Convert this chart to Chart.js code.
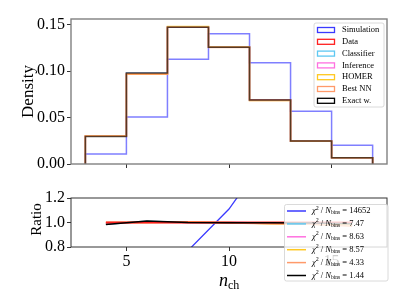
<!DOCTYPE html>
<html>
<head>
<meta charset="utf-8">
<script src="https://cdn.jsdelivr.net/npm/chart.js@4.4.0/dist/chart.umd.min.js"></script>
<style>
  body { margin: 0; background: #fff; }
  #caja { position: relative; width: 407px; height: 305px; }
  #caja canvas { position: absolute; left: 0; top: 0; }
</style>
</head>
<body>
<div id="caja">
  <canvas id="grafico_hist" width="407" height="305"></canvas>
  <canvas id="grafico_ratio" width="407" height="305"></canvas>
</div>
<script>
// bins de n_ch (ancho 2)
var bordes = [3, 5, 7, 9, 11, 13, 15, 17];
var centros = [4, 6, 8, 10, 12, 14, 16];

var h_simulation = [0.0108, 0.0507, 0.1126, 0.140, 0.109, 0.0568, 0.0201];
var h_data       = [0.0302, 0.0968, 0.147, 0.126, 0.069, 0.0248, 0.0068];
var h_classifier = [0.0298, 0.0978, 0.147, 0.126, 0.0687, 0.0246, 0.0067];
var h_inference  = [0.0299, 0.0973, 0.147, 0.126, 0.0687, 0.0246, 0.0067];
var h_homer      = [0.0302, 0.0968, 0.148, 0.126, 0.0683, 0.0244, 0.0066];
var h_bestnn     = [0.0302, 0.0968, 0.147, 0.1254, 0.0683, 0.0244, 0.0066];
var h_exact      = [0.0297, 0.0980, 0.147, 0.1257, 0.0688, 0.0247, 0.0067];

// ratios (panel de abajo)
var r_simulation = [0.36, 0.52, 0.77, 1.11, 1.58, 2.29, 2.95];
var r_data       = [1.0, 1.0, 1.0, 1.0, 1.0, 1.0, 1.0];
var r_classifier = [0.985, 1.01, 1.0, 1.0, 0.995, 0.99, 0.99];
var r_inference  = [0.99, 1.005, 1.0, 1.0, 0.995, 0.99, 0.99];
var r_homer      = [1.0, 1.0, 1.005, 1.0, 0.99, 0.985, 0.98];
var r_bestnn     = [1.0, 1.0, 1.0, 0.995, 0.99, 0.985, 0.97];
var r_exact      = [0.983, 1.012, 1.0, 0.998, 0.997, 0.995, 0.99];

var nombres = ['Simulation', 'Data', 'Classifier', 'Inference', 'HOMER', 'Best NN', 'Exact w.'];
var chi2_valores = ['14652', '7.47', '8.63', '8.57', '4.33', '1.44'];

var ticks_x = [5, 10, 15];
var ticks_density = [0.00, 0.05, 0.10, 0.15];
var ticks_ratio = [0.8, 1.0, 1.2];

var colores = {
    sim: '#3a3aff', data: '#ff2020', clas: '#5ec8f2', inf: '#ff70e0',
    homer: '#ffc820', best: '#ff9a6a', exact: '#000000'
};
var colores_hist = {
    sim: 'rgba(58,58,255,0.65)', data: 'rgba(255,32,32,0.8)', clas: 'rgba(94,200,242,0.7)',
    inf: 'rgba(255,112,224,0.7)', homer: 'rgba(255,200,32,0.8)', best: 'rgba(255,154,106,0.7)',
    exact: 'rgba(0,0,0,0.65)'
};

var fuente = '"Liberation Serif", "Times New Roman", serif';
Chart.defaults.font.family = fuente;
Chart.defaults.color = '#000';

function escalon(valores) {
    var pts = [{x: bordes[0], y: 0}];
    for (var i = 0; i < valores.length; i++) {
        pts.push({x: bordes[i], y: valores[i]});
        pts.push({x: bordes[i + 1], y: valores[i]});
    }
    pts.push({x: bordes[bordes.length - 1], y: 0});
    return pts;
}

function puntos(valores) {
    return centros.map(function (c, i) { return {x: c, y: valores[i]}; });
}

function linea(datos, color, ancho, orden) {
    return {data: datos, borderColor: color, borderWidth: ancho, pointRadius: 0,
            fill: false, tension: 0, order: orden};
}

// texto con sub/superindices: [texto, font, dy]
function texto_rico(ctx, partes, x, y) {
    for (var i = 0; i < partes.length; i++) {
        ctx.font = partes[i][1];
        ctx.fillText(partes[i][0], x, y + (partes[i][2] || 0));
        x += ctx.measureText(partes[i][0]).width;
    }
    return x;
}

function caja_leyenda(ctx, x, y, w, h) {
    ctx.save();
    ctx.fillStyle = 'rgba(255,255,255,0.8)';
    ctx.strokeStyle = '#d0d0d0';
    ctx.lineWidth = 0.8;
    ctx.beginPath();
    ctx.roundRect(x, y, w, h, 2);
    ctx.fill();
    ctx.stroke();
    ctx.restore();
}

var plugin_hist = {
    id: 'extras_hist',
    afterDraw: function (chart) {
        var ctx = chart.ctx, a = chart.chartArea;
        ctx.save();
        // marco
        ctx.strokeStyle = '#808080';
        ctx.lineWidth = 1.4;
        ctx.strokeRect(a.left, a.top, a.right - a.left, a.bottom - a.top);
        // titulo eje y
        ctx.fillStyle = '#000';
        ctx.translate(33, (a.top + a.bottom) / 2);
        ctx.rotate(-Math.PI / 2);
        ctx.textAlign = 'center';
        ctx.textBaseline = 'alphabetic';
        ctx.font = '17px ' + fuente;
        ctx.fillText('Density', 0, 0);
        ctx.restore();

        // leyenda
        caja_leyenda(ctx, 314, 23, 70, 84);
        var cols = [colores.sim, colores.data, colores.clas, colores.inf, colores.homer, colores.best, colores.exact];
        ctx.save();
        ctx.textBaseline = 'middle';
        ctx.font = '8.5px ' + fuente;
        for (var i = 0; i < nombres.length; i++) {
            var yy = 30 + i * 11.8;
            ctx.strokeStyle = cols[i];
            ctx.lineWidth = 1.3;
            ctx.strokeRect(317.5, yy - 2.5, 17, 5);
            ctx.fillStyle = '#000';
            ctx.fillText(nombres[i], 342, yy);
        }
        ctx.restore();
    }
};

var plugin_ratio = {
    id: 'extras_ratio',
    afterDraw: function (chart) {
        var ctx = chart.ctx, a = chart.chartArea;
        ctx.save();
        ctx.strokeStyle = '#333';
        ctx.lineWidth = 1;
        ctx.strokeRect(a.left, a.top, a.right - a.left, a.bottom - a.top);
        ctx.fillStyle = '#000';
        // titulo eje x
        ctx.textBaseline = 'alphabetic';
        texto_rico(ctx, [['n', 'italic 18px ' + fuente, 0], ['ch', '12px ' + fuente, 3]], 219, 286);
        // titulo eje y
        ctx.translate(41, (a.top + a.bottom) / 2 - 3);
        ctx.rotate(-Math.PI / 2);
        ctx.textAlign = 'center';
        ctx.font = '15px ' + fuente;
        ctx.fillText('Ratio', 0, 0);
        ctx.restore();

        // leyenda chi2
        caja_leyenda(ctx, 284.5, 204.5, 103.5, 76.5);
        var cols = [colores.sim, colores.clas, colores.inf, colores.homer, colores.best, colores.exact];
        ctx.save();
        ctx.textBaseline = 'middle';
        for (var i = 0; i < chi2_valores.length; i++) {
            var yy = 211 + i * 12.9;
            ctx.strokeStyle = cols[i];
            ctx.lineWidth = 1.5;
            ctx.beginPath();
            ctx.moveTo(287, yy);
            ctx.lineTo(306, yy);
            ctx.stroke();
            ctx.fillStyle = '#000';
            texto_rico(ctx, [
                ['\u03c7', 'italic 8.5px ' + fuente, 0],
                ['2', '6px ' + fuente, -3],
                [' / ', '8.5px ' + fuente, 0],
                ['N', 'italic 8.5px ' + fuente, 0],
                ['bins', '5.5px ' + fuente, 2],
                [' = ' + chi2_valores[i], '8.5px ' + fuente, 0]
            ], 312, yy);
        }
        ctx.restore();
    }
};

function eje_x(alto, mostrar) {
    return {
        type: 'linear', min: 2.3, max: 17.7,
        afterBuildTicks: function (s) { s.ticks = ticks_x.map(function (v) { return {value: v}; }); },
        afterFit: function (s) { s.height = alto; },
        grid: {drawOnChartArea: false, drawTicks: true, tickLength: 4, tickColor: '#333', tickWidth: 1},
        border: {display: false},
        ticks: {display: mostrar, font: {size: 16}, padding: 1, color: '#000'}
    };
}

function grafico_hist() {
    new Chart(document.getElementById('grafico_hist'), {
        type: 'line',
        data: {
            datasets: [
                linea(escalon(h_simulation), colores_hist.sim, 1.5, 7),
                linea(escalon(h_data), colores_hist.data, 1.5, 6),
                linea(escalon(h_classifier), colores_hist.clas, 1.5, 5),
                linea(escalon(h_inference), colores_hist.inf, 1.5, 4),
                linea(escalon(h_homer), colores_hist.homer, 1.5, 3),
                linea(escalon(h_bestnn), colores_hist.best, 1.5, 2),
                linea(escalon(h_exact), colores_hist.exact, 1.5, 1)
            ]
        },
        options: {
            responsive: false, animation: false, devicePixelRatio: 1,
            layout: {padding: {top: 19, right: 20, left: 0, bottom: 0}},
            plugins: {legend: {display: false}, tooltip: {enabled: false}},
            scales: {
                x: eje_x(305 - 164, false),
                y: {
                    min: 0, max: 0.156,
                    afterBuildTicks: function (s) { s.ticks = ticks_density.map(function (v) { return {value: v}; }); },
                    afterFit: function (s) { s.width = 71; },
                    grid: {drawOnChartArea: false, drawTicks: true, tickLength: 4, tickColor: '#333'},
                    border: {display: false},
                    ticks: {font: {size: 16}, padding: 2, callback: function (v) { return v.toFixed(2); }}
                }
            }
        },
        plugins: [plugin_hist]
    });
}

function grafico_ratio() {
    new Chart(document.getElementById('grafico_ratio'), {
        type: 'line',
        data: {
            datasets: [
                linea(puntos(r_simulation), colores.sim, 1.3, 7),
                linea(puntos(r_classifier), colores.clas, 1.5, 6),
                linea(puntos(r_inference), colores.inf, 1.5, 5),
                linea(puntos(r_homer), colores.homer, 1.5, 4),
                linea(puntos(r_bestnn), colores.best, 1.5, 3),
                linea(puntos(r_data), colores.data, 2, 2),
                linea(puntos(r_exact), colores.exact, 1.5, 1)
            ]
        },
        options: {
            responsive: false, animation: false, devicePixelRatio: 1,
            layout: {padding: {top: 198, right: 20, left: 0, bottom: 0}},
            plugins: {legend: {display: false}, tooltip: {enabled: false}},
            scales: {
                x: eje_x(305 - 247, true),
                y: {
                    min: 0.8, max: 1.2,
                    afterBuildTicks: function (s) { s.ticks = ticks_ratio.map(function (v) { return {value: v}; }); },
                    afterFit: function (s) { s.width = 71; },
                    grid: {drawOnChartArea: false, drawTicks: true, tickLength: 4, tickColor: '#333'},
                    border: {display: false},
                    ticks: {font: {size: 16}, padding: 2, callback: function (v) { return v.toFixed(1); }}
                }
            }
        },
        plugins: [plugin_ratio]
    });
}

grafico_hist();
grafico_ratio();
</script>
</body>
</html>
